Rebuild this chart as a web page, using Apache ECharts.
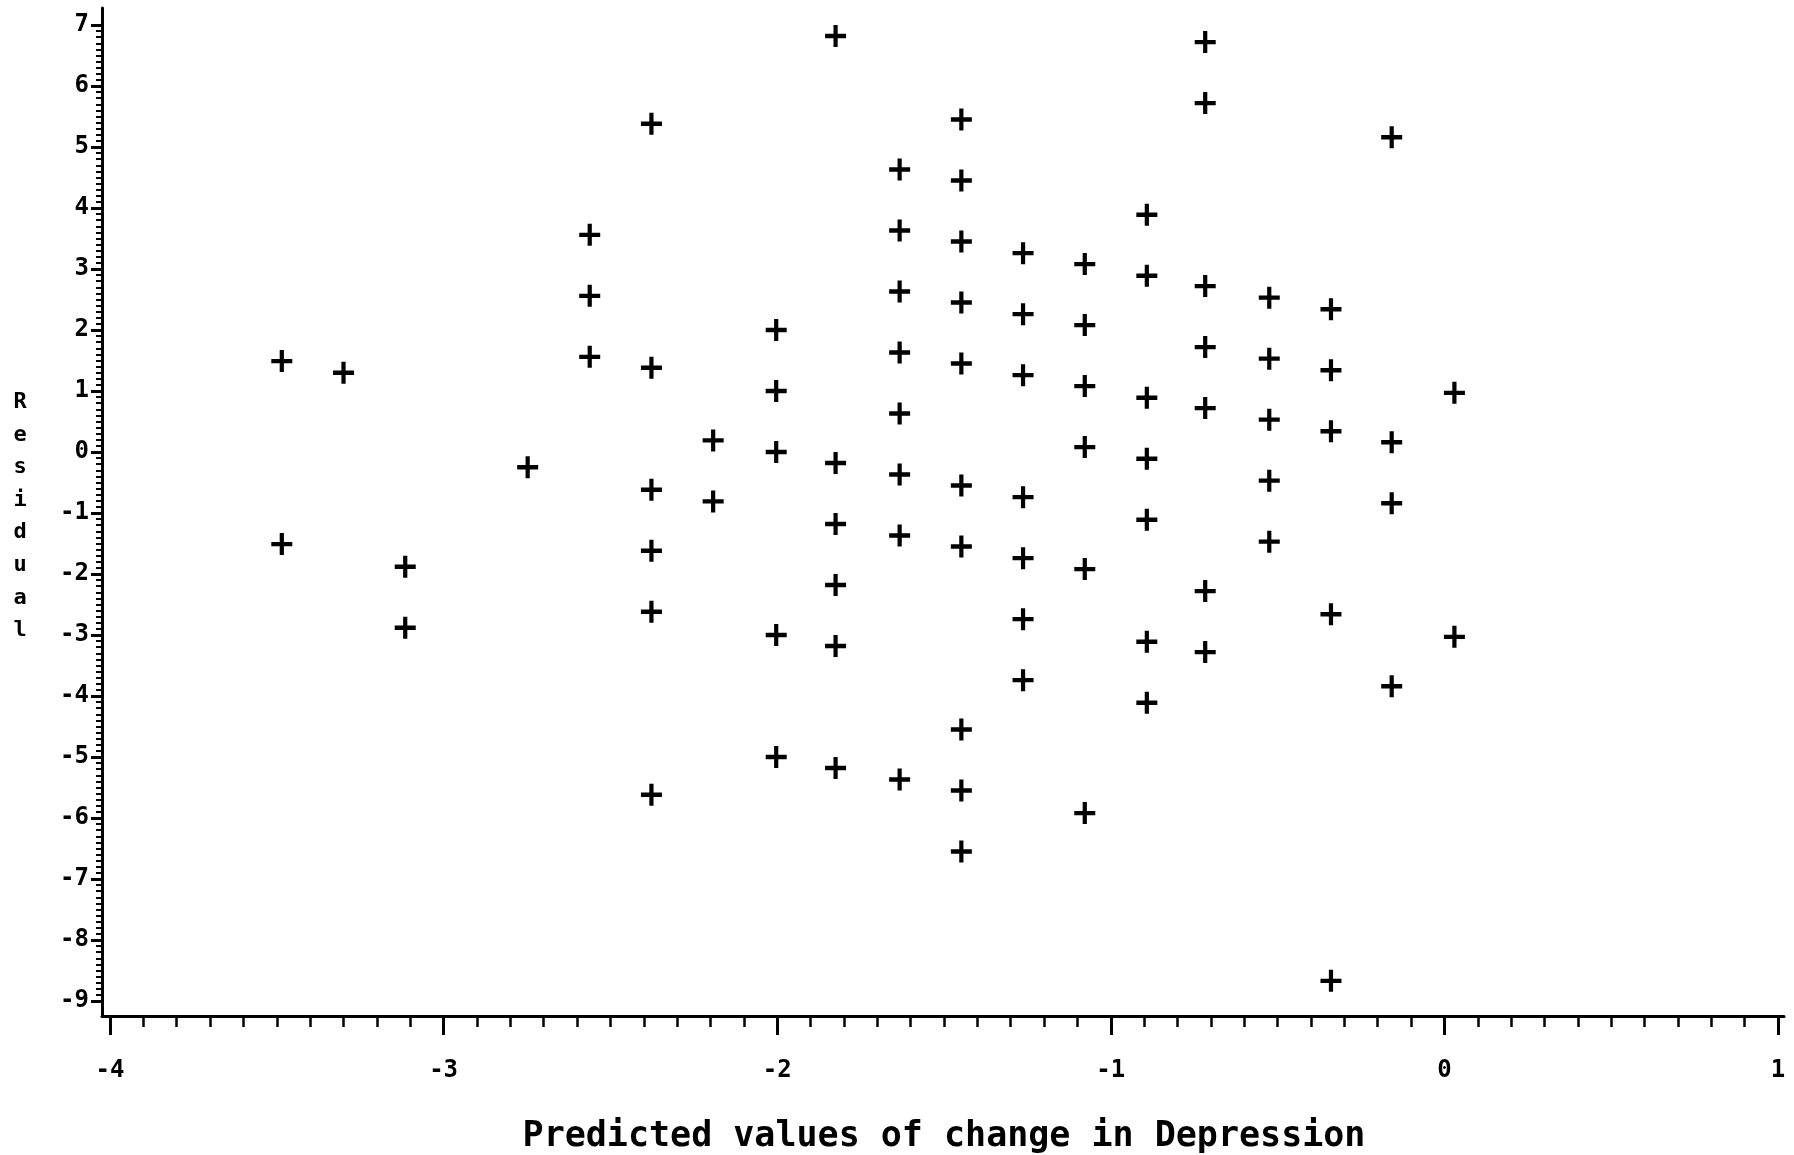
<!DOCTYPE html>
<html>
<head>
<meta charset="utf-8">
<title>Residuals vs predicted change in Depression</title>
<script src="https://cdn.jsdelivr.net/npm/echarts@6/dist/echarts.min.js"></script>
<style>
  html, body { margin: 0; padding: 0; background: #fff; }
  #chart { width: 1794px; height: 1155px; }
</style>
</head>
<body>
<div id="chart"></div>
<script>
// Predicted values (one per column of points)
const predicted = [-3.485, -3.30, -3.115, -2.748, -2.562, -2.377, -2.192, -2.003, -1.825,
                   -1.633, -1.448, -1.263, -1.078, -0.892, -0.717, -0.525, -0.340, -0.158, 0.030];

// Residuals observed at each predicted value
const residuals = [
  [1.49, -1.51],
  [1.30],
  [-1.88, -2.88],
  [-0.25],
  [3.56, 2.56, 1.56],
  [5.38, 1.38, -0.62, -1.62, -2.62, -5.62],
  [0.19, -0.81],
  [2.00, 1.00, 0.00, -3.00, -5.00],
  [6.82, -0.18, -1.18, -2.18, -3.18, -5.18],
  [4.63, 3.63, 2.63, 1.63, 0.63, -0.37, -1.37, -5.37],
  [5.45, 4.45, 3.45, 2.45, 1.45, -0.55, -1.55, -4.55, -5.55, -6.55],
  [3.26, 2.26, 1.26, -0.74, -1.74, -2.74, -3.74],
  [3.08, 2.08, 1.08, 0.08, -1.92, -5.92],
  [3.89, 2.89, 0.89, -0.11, -1.11, -3.11, -4.11],
  [6.72, 5.72, 2.72, 1.72, 0.72, -2.28, -3.28],
  [2.53, 1.53, 0.53, -0.47, -1.47],
  [2.34, 1.34, 0.34, -2.66, -8.67],
  [5.16, 0.16, -0.84, -3.84],
  [0.97, -3.03]
];

// Tick values of both axes
const xTicks = [-4, -3, -2, -1, 0, 1];
const yTicks = [-9, -8, -7, -6, -5, -4, -3, -2, -1, 0, 1, 2, 3, 4, 5, 6, 7];

const xTitle = 'Predicted values of change in Depression';
const yTitle = 'Residual';

const points = [];
predicted.forEach((x, i) => residuals[i].forEach(r => points.push([x, r])));

const MONO = '"DejaVu Sans Mono", "Liberation Mono", monospace';
const PLUS = 'path://M8,0H12V8H20V12H12V20H8V12H0V8H8Z';

const chart = echarts.init(document.getElementById('chart'), null, { renderer: 'canvas' });

const hidden = { show: false };
const frameAxis = (gridIndex) => ({
  gridIndex, type: 'value', min: 0, max: 1,
  axisLine: { show: true, onZero: false, lineStyle: { color: '#000', width: 3 } },
  axisTick: hidden, axisLabel: hidden, splitLine: hidden
});

chart.setOption({
  animation: false,
  backgroundColor: '#fff',
  grid: [
    // outer frame carrying the two axis lines
    { left: 102, top: 8, width: 1682, height: 1008, containLabel: false, outerBoundsMode: 'none' },
    // scaled area carrying ticks, labels and the points
    { left: 110, top: 25, width: 1668, height: 976, containLabel: false, outerBoundsMode: 'none' }
  ],
  xAxis: [
    frameAxis(0),
    {
      gridIndex: 1, type: 'value', position: 'bottom',
      min: xTicks[0], max: xTicks[xTicks.length - 1], interval: 1,
      offset: 15,
      axisLine: { show: false, onZero: false },
      axisTick: { show: true, length: 19, lineStyle: { color: '#000', width: 3 } },
      minorTick: { show: true, splitNumber: 10, length: 11, lineStyle: { color: '#000', width: 2.5 } },
      axisLabel: { margin: 43, color: '#000', fontFamily: MONO, fontWeight: 'bold', fontSize: 24 },
      splitLine: hidden, minorSplitLine: hidden,
      name: xTitle, nameLocation: 'middle', nameGap: 103,
      nameTextStyle: { color: '#000', fontFamily: MONO, fontWeight: 'bold', fontSize: 35 }
    }
  ],
  yAxis: [
    frameAxis(0),
    {
      gridIndex: 1, type: 'value', position: 'left',
      min: yTicks[0], max: yTicks[yTicks.length - 1], interval: 1,
      offset: 8,
      axisLine: { show: false, onZero: false },
      axisTick: { show: true, length: 11, lineStyle: { color: '#000', width: 3 } },
      minorTick: { show: true, splitNumber: 10, length: 6, lineStyle: { color: '#000', width: 2 } },
      axisLabel: { margin: 13, color: '#000', fontFamily: MONO, fontWeight: 'bold', fontSize: 24 },
      splitLine: hidden, minorSplitLine: hidden
    }
  ],
  graphic: [{
    type: 'text',
    x: 20, y: 386,
    style: {
      text: yTitle.split('').join('\n'),
      font: 'bold 22px ' + MONO,
      fill: '#000',
      align: 'center', textAlign: 'center',
      verticalAlign: 'top', textVerticalAlign: 'top',
      lineHeight: 32.6
    }
  }],
  series: [{
    type: 'scatter',
    xAxisIndex: 1, yAxisIndex: 1,
    data: points,
    symbol: PLUS,
    symbolSize: [21, 22],
    itemStyle: { color: '#000', opacity: 1 },
    emphasis: { disabled: true },
    silent: true
  }]
});
</script>
</body>
</html>
